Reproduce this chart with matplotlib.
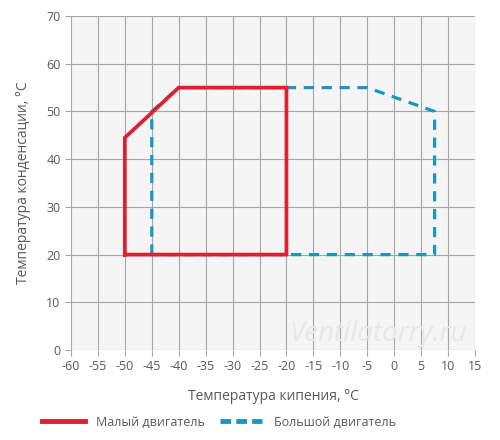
import matplotlib
matplotlib.use('Agg')
import matplotlib.pyplot as plt
from matplotlib.lines import Line2D

plt.rcParams['font.family'] = ['Open Sans', 'DejaVu Sans']
plt.rcParams['axes.unicode_minus'] = False

# контуры рабочих областей (температура кипения, температура конденсации)
small_x = [-50, -50, -40, -20, -20, -50]
small_y = [20, 44.5, 55, 55, 20, 20]
big_x = [-45, -45, -40, -5, 7.5, 7.5, -45]
big_y = [20, 50, 55, 55, 50, 20, 20]

x_ticks = list(range(-60, 16, 5))
y_ticks = list(range(0, 71, 10))

text_col = '#595959'
red = '#e0202e'
blue = '#1897c4'

fig = plt.figure(figsize=(5, 4.4), dpi=100)
ax = fig.add_axes([0.142, 0.2045, 0.808, 0.759])
ax.set_facecolor('#f5f5f5')

ax.plot(small_x, small_y, color=red, lw=2.7, solid_joinstyle='miter', zorder=3)
ax.plot(big_x, big_y, color=blue, lw=2.3, dashes=(3.2, 2.4), zorder=2)

ax.set_xlim(-60, 15)
ax.set_ylim(0, 70)
ax.set_xticks(x_ticks)
ax.set_yticks(y_ticks)
ax.grid(color='#a6a6a6', lw=0.8)
ax.set_axisbelow(True)
for s in ax.spines.values():
    s.set_visible(False)
ax.tick_params(colors='#a6a6a6', labelcolor=text_col, labelsize=9, length=4, width=0.8)

ax.set_xlabel('Температура кипения, °C', color=text_col, fontsize=10, labelpad=11)
ax.set_ylabel('Температура конденсации, °C', color=text_col, fontsize=10, labelpad=11)

# водяной знак
ax.text(-3, 0.4, 'Ventilatorry.ru', fontsize=20, style='italic', color='#e8e8e8',
        ha='center', va='bottom', zorder=5)

handles = [Line2D([], [], color=red, lw=3.5),
           Line2D([], [], color=blue, lw=3.5, dashes=(2.2, 1.05))]
fig.legend(handles, ['Малый двигатель', 'Большой двигатель'], loc='lower left',
           bbox_to_anchor=(0.062, 0.0), ncol=2, frameon=False, fontsize=9,
           labelcolor=text_col, handlelength=3.4, columnspacing=1.2, handletextpad=0.9)

fig.savefig('out.png', dpi=100)
